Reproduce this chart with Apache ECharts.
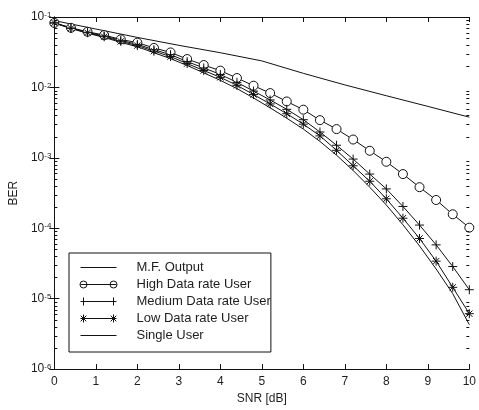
<!DOCTYPE html>
<html><head><meta charset="utf-8">
<script src="https://cdn.jsdelivr.net/npm/echarts@6/dist/echarts.min.js"></script>
<style>html,body{margin:0;padding:0;background:#fff}#c{width:479px;height:410px}</style>
</head><body><div id="c"></div>
<script>
// ---- data ----
const snr = [0,0.4,0.8,1.2,1.6,2,2.4,2.8,3.2,3.6,4,4.4,4.8,5.2,5.6,6,6.4,6.8,7.2,7.6,8,8.4,8.8,9.2,9.6,10];
const highRate = [0.0824,0.0702,0.0617,0.0553,0.0481,0.0432,0.0364,0.0314,0.0253,0.0208,0.0173,0.0136,0.01058,0.00831,0.00632,0.00483,0.00343,0.00256,0.00182,0.00126,0.000879,0.000588,0.000383,0.000252,0.000158,0.000102];
const mediumRate = [0.0824,0.0697,0.0607,0.0538,0.0466,0.0409,0.0343,0.0292,0.0233,0.0189,0.0153,0.0118,0.00887,0.00664,0.00489,0.00348,0.00233,0.00151,0.00096,0.000588,0.000362,0.000204,0.000111,5.81e-5,2.86e-5,1.34e-5];
const lowRate = [0.0824,0.069,0.0597,0.0525,0.0451,0.0393,0.0327,0.0274,0.0218,0.0174,0.0139,0.0107,0.00792,0.00583,0.00423,0.00301,0.00205,0.00128,0.000771,0.000465,0.000262,0.000139,7.16e-5,3.41e-5,1.45e-5,6.12e-6];
const singleUser = [0.0824,0.0686,0.0588,0.0513,0.0436,0.0378,0.0311,0.0256,0.0205,0.0161,0.0126,0.00962,0.00708,0.00513,0.00366,0.00256,0.00171,0.00109,0.000662,0.000383,0.000214,0.000112,5.62e-5,2.64e-5,1.18e-5,4.27e-6];
const mfSnr = [0,1,2,3,4,5,6,7,8,9,10];
const mfOutput = [0.0888,0.0675,0.0513,0.0396,0.0311,0.0238,0.01585,0.01086,0.00762,0.00538,0.00378];
const seriesNames = ['M.F. Output','High Data rate User','Medium Data rate User','Low Data rate User','Single User'];
const xTicks = [0,1,2,3,4,5,6,7,8,9,10];
const yDecades = [1e-6,1e-5,1e-4,1e-3,1e-2,1e-1];
const minorMultipliers = [2,3,4,5,6,7,8,9];
const xName = 'SNR [dB]';
const yName = 'BER';

// ---- build ----
const minorTicks = [];
yDecades.slice(0, -1).forEach(d => minorMultipliers.forEach(m => minorTicks.push(+(m * d).toPrecision(3))));
const pair = (xs, ys) => ys.map((v, i) => [xs[i], v]);

const TXT = '#1e1e1e', LN = '#111';
const FONT = '"Liberation Sans", Arial, sans-serif';
const plusSym = 'path://M5 0L5 10M0 5L10 5';
const starSym = 'path://M5 0L5 10M0 5L10 5M1.5 1.5L8.5 8.5M1.5 8.5L8.5 1.5';
const icLine = 'path://M0 0M52 10M1 5L37 5';
const icCircle = 'path://M0 0M52 10M1 5L37 5M7.5 5A3.5 3.5 0 0 1 0.5 5A3.5 3.5 0 0 1 7.5 5M37.5 5A3.5 3.5 0 0 1 30.5 5A3.5 3.5 0 0 1 37.5 5';
const icPlus = 'path://M0 0M52 10M1 5L37 5M4 1L4 9M34 1L34 9';
const icStar = 'path://M0 0M52 10M1 5L37 5M4 1L4 9M1.2 2.2L6.8 7.8M1.2 7.8L6.8 2.2M34 1L34 9M31.2 2.2L36.8 7.8M31.2 7.8L36.8 2.2';
const legStyle = {color: 'none', borderColor: LN, borderWidth: 1};

const baseLine = {type: 'line', xAxisIndex: 0, yAxisIndex: 0, silent: true, animation: false,
  showAllSymbol: true, lineStyle: {color: LN, width: 1}, emphasis: {disabled: true}};

const chart = echarts.init(document.getElementById('c'), null, {renderer: 'canvas'});
chart.setOption({
  backgroundColor: '#fff',
  animation: false,
  grid: {left: 49, right: 7, top: 17, bottom: 35, containLabel: false},
  xAxis: [
    {type: 'value', min: xTicks[0], max: xTicks[xTicks.length - 1], interval: 1, position: 'bottom',
     name: xName, nameLocation: 'middle', nameGap: 21,
     nameTextStyle: {color: TXT, fontFamily: FONT, fontSize: 12},
     axisLine: {show: true, lineStyle: {color: LN, width: 1}},
     axisTick: {show: true, inside: true, length: 5, lineStyle: {color: LN}},
     axisLabel: {show: true, color: TXT, fontFamily: FONT, fontSize: 12, margin: 7},
     splitLine: {show: false}},
    {type: 'value', min: xTicks[0], max: xTicks[xTicks.length - 1], interval: 1, position: 'top',
     axisLine: {show: true, lineStyle: {color: LN, width: 1}},
     axisTick: {show: true, inside: true, length: 5, lineStyle: {color: LN}},
     axisLabel: {show: false}, splitLine: {show: false}}
  ],
  yAxis: [
    {type: 'log', logBase: 10, min: yDecades[0], max: yDecades[yDecades.length - 1], position: 'left',
     name: yName, nameLocation: 'middle', nameGap: 34, nameRotate: 90,
     nameTextStyle: {color: TXT, fontFamily: FONT, fontSize: 12},
     axisLine: {show: true, lineStyle: {color: LN, width: 1}},
     axisTick: {show: true, inside: true, length: 5, lineStyle: {color: LN}},
     axisLabel: {show: true, margin: 3,
       formatter: v => '{b|10}{s|' + Math.round(Math.log10(v)) + '}',
       rich: {b: {fontFamily: FONT, fontSize: 12, color: TXT, lineHeight: 12, verticalAlign: 'middle'},
              s: {fontFamily: FONT, fontSize: 8, color: TXT, lineHeight: 8, verticalAlign: 'top'}}},
     splitLine: {show: false}},
    {type: 'log', logBase: 10, min: yDecades[0], max: yDecades[yDecades.length - 1], position: 'right',
     axisLine: {show: true, lineStyle: {color: LN, width: 1}},
     axisTick: {show: true, inside: true, length: 5, lineStyle: {color: LN}},
     axisLabel: {show: false}, splitLine: {show: false}}
  ],
  legend: {
    orient: 'vertical', left: 69, top: 253,
    itemWidth: 52, itemHeight: 10, itemGap: 2,
    padding: [7, 0, 9, 8],
    borderColor: LN, borderWidth: 1, borderRadius: 0, backgroundColor: '#fff',
    selectedMode: false, symbolKeepAspect: true,
    textStyle: {fontFamily: FONT, fontSize: 13, color: TXT, lineHeight: 13},
    data: [
      {name: seriesNames[0], icon: icLine, itemStyle: legStyle},
      {name: seriesNames[1], icon: icCircle, itemStyle: legStyle},
      {name: seriesNames[2], icon: icPlus, itemStyle: legStyle},
      {name: seriesNames[3], icon: icStar, itemStyle: legStyle},
      {name: seriesNames[4], icon: icLine, itemStyle: legStyle}
    ]
  },
  series: [
    Object.assign({}, baseLine, {name: seriesNames[0], data: pair(mfSnr, mfOutput), symbol: 'none'}),
    Object.assign({}, baseLine, {name: seriesNames[1], data: pair(snr, highRate), symbol: 'circle', symbolSize: 9,
      itemStyle: {color: '#fff', borderColor: LN, borderWidth: 1}}),
    Object.assign({}, baseLine, {name: seriesNames[2], data: pair(snr, mediumRate), symbol: plusSym, symbolSize: 9,
      itemStyle: {color: LN, borderColor: LN, borderWidth: 1}}),
    Object.assign({}, baseLine, {name: seriesNames[3], data: pair(snr, lowRate), symbol: starSym, symbolSize: 9,
      itemStyle: {color: LN, borderColor: LN, borderWidth: 1}}),
    Object.assign({}, baseLine, {name: seriesNames[4], data: pair(snr, singleUser), symbol: 'none'}),
    {type: 'custom', name: 'minorTicks', silent: true, animation: false, clip: false, z: 5,
     xAxisIndex: 0, yAxisIndex: 0,
     data: minorTicks.map(v => [xTicks[0], v]),
     renderItem: (params, api) => {
       const v = api.value(1);
       const pL = api.coord([xTicks[0], v]);
       const pR = api.coord([xTicks[xTicks.length - 1], v]);
       const y = Math.round(pL[1]) + 0.5;
       return {type: 'group', children: [
         {type: 'line', shape: {x1: pL[0], y1: y, x2: pL[0] + 3, y2: y}, style: {stroke: LN, lineWidth: 1}},
         {type: 'line', shape: {x1: pR[0], y1: y, x2: pR[0] - 3, y2: y}, style: {stroke: LN, lineWidth: 1}}
       ]};
     }}
  ]
});
</script>
</body></html>
